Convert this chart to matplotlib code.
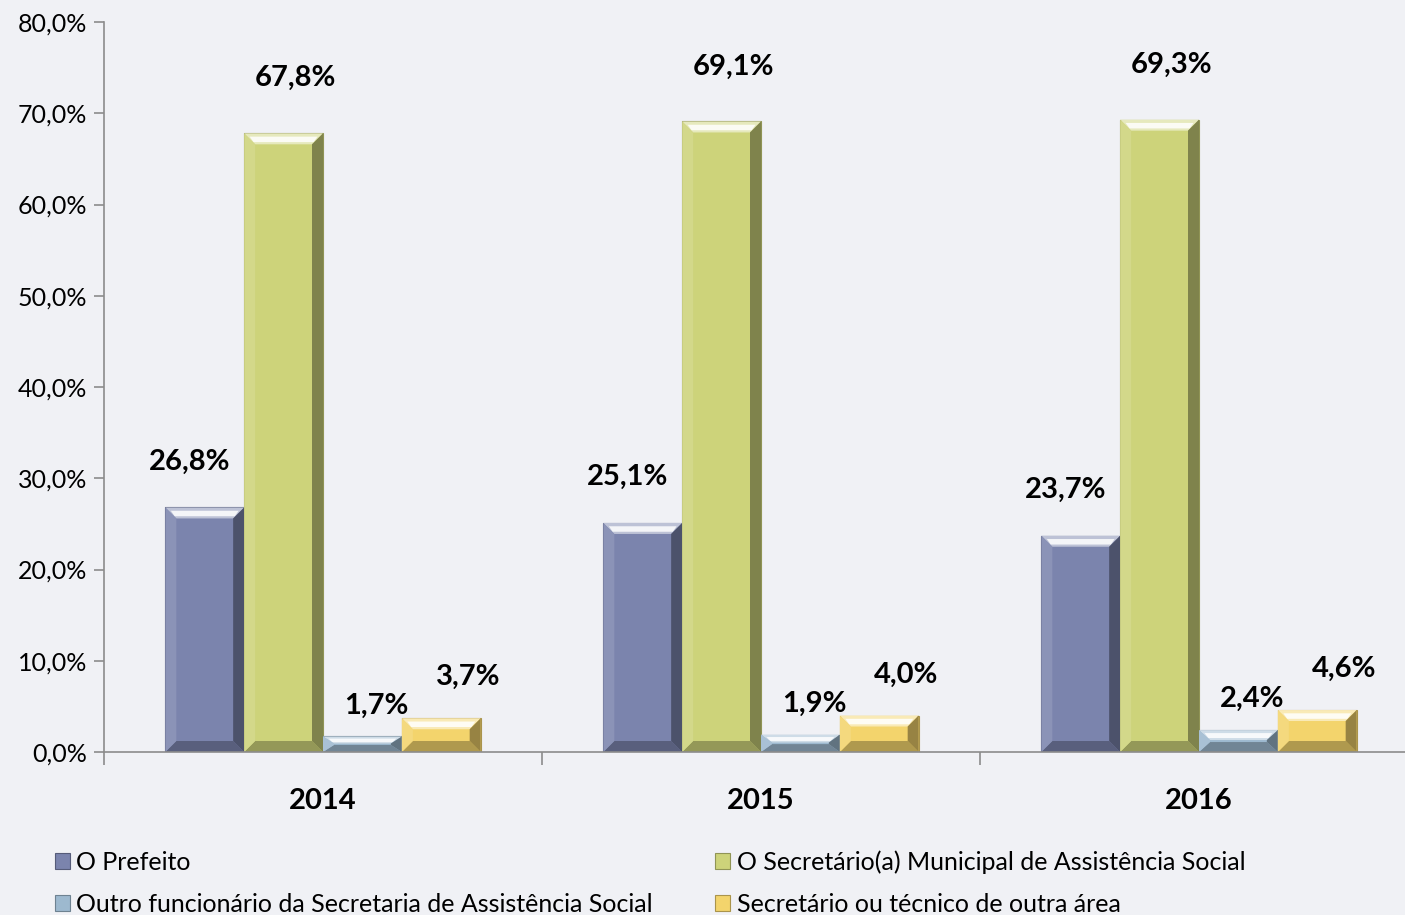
import matplotlib
matplotlib.use("Agg")
import matplotlib.pyplot as plt
from matplotlib.patches import Polygon
from matplotlib.colors import to_rgb
import numpy as np

years = ["2014", "2015", "2016"]
series_names = [
    "O Prefeito",
    "O Secretário(a) Municipal de Assistência Social",
    "Outro funcionário da Secretaria de Assistência Social",
    "Secretário ou técnico de outra área",
]
prefeito = [26.8, 25.1, 23.7]
secretario = [67.8, 69.1, 69.3]
outro_func = [1.7, 1.9, 2.4]
outra_area = [3.7, 4.0, 4.6]
y_ticks = [0, 10, 20, 30, 40, 50, 60, 70, 80]

series_values = [prefeito, secretario, outro_func, outra_area]
colors = ["#7b84ad", "#cdd37a", "#9db9cf", "#f3d46c"]
label_offsets = [(-15, 46), (12, 55), (14, 31), (27, 41)]  # pixels

FONT = "Lato"
plt.rcParams["font.family"] = [FONT, "DejaVu Sans"]

W, H = 1405, 915
fig = plt.figure(figsize=(W / 100, H / 100), dpi=100)
bg = "#f0f1f5"
fig.patch.set_facecolor(bg)

ax_left, ax_right = 104 / W, 1418 / W
ax_bottom, ax_top = (H - 752) / H, (H - 22) / H
ax = fig.add_axes([ax_left, ax_bottom, ax_right - ax_left, ax_top - ax_bottom])
ax.set_facecolor("none")

n_cat = len(years)
n_ser = len(series_values)
bar_w = 0.18
x = np.arange(n_cat)

ax.set_xlim(-0.5, n_cat - 0.5)
ax.set_ylim(0, 80)


def blend(c, other, t):
    c = np.array(to_rgb(c))
    o = np.array(to_rgb(other))
    return tuple(c * (1 - t) + o * t)


px_x = (n_cat) / (1418 - 104)
px_y = 80 / (752 - 22)
bev_px = 11

containers = []
for i, (vals, col) in enumerate(zip(series_values, colors)):
    pos = x + (i - (n_ser - 1) / 2) * bar_w
    bc = ax.bar(pos, vals, width=bar_w, color=col, edgecolor=blend(col, "black", 0.3),
                linewidth=0.8, label=series_names[i], zorder=2)
    containers.append(bc)
    for p in bc.patches:
        x0, w, h = p.get_x(), p.get_width(), p.get_height()
        x1, y0, y1 = x0 + w, 0, h
        bx = bev_px * px_x
        by = min(bev_px * px_y, h / 2.2)
        # top (two-tone highlight)
        ax.add_patch(Polygon([(x0, y1), (x1, y1), (x1 - bx, y1 - by), (x0 + bx, y1 - by)],
                             closed=True, facecolor=blend(col, "white", 0.5), edgecolor="none", zorder=3))
        ax.add_patch(Polygon([(x0 + bx * 0.5, y1 - by * 0.3), (x1 - bx * 0.5, y1 - by * 0.3),
                              (x1 - bx * 0.85, y1 - by * 0.8), (x0 + bx * 0.85, y1 - by * 0.8)],
                             closed=True, facecolor=blend(col, "white", 0.92), edgecolor="none", zorder=3))
        # bottom
        ax.add_patch(Polygon([(x0, y0), (x1, y0), (x1 - bx, y0 + by), (x0 + bx, y0 + by)],
                             closed=True, facecolor=blend(col, "black", 0.28), edgecolor="none", zorder=3))
        # left
        ax.add_patch(Polygon([(x0, y0), (x0, y1), (x0 + bx, y1 - by), (x0 + bx, y0 + by)],
                             closed=True, facecolor=blend(col, "white", 0.12), edgecolor="none", zorder=3))
        # right
        ax.add_patch(Polygon([(x1, y0), (x1, y1), (x1 - bx, y1 - by), (x1 - bx, y0 + by)],
                             closed=True, facecolor=blend(col, "black", 0.38), edgecolor="none", zorder=3))
    dx, dy = label_offsets[i]
    for xp, v in zip(pos, vals):
        ax.annotate(f"{v:.1f}%".replace(".", ","), (xp, v), xytext=(dx, dy),
                    textcoords="offset pixels", ha="center", va="center",
                    fontsize=21, fontweight="bold", color="black", zorder=5)

for s in ["top", "right"]:
    ax.spines[s].set_visible(False)
for s in ["left", "bottom"]:
    ax.spines[s].set_color("#8c8c8c")
    ax.spines[s].set_linewidth(1.2)
ax.spines["bottom"].set_zorder(4)

ax.set_yticks(y_ticks)
ax.set_yticklabels([f"{t:.1f}%".replace(".", ",") for t in y_ticks], fontsize=18)
ax.tick_params(axis="y", length=7, width=1.2, color="#8c8c8c", pad=5)

ax.set_xticks(np.arange(n_cat + 1) - 0.5, minor=False)
ax.set_xticklabels([])
ax.tick_params(axis="x", which="major", length=9, width=1.2, color="#8c8c8c", direction="out")
ax.set_xticks(x, minor=True)
ax.set_xticklabels(years, minor=True, fontsize=21, fontweight="bold")
ax.tick_params(axis="x", which="minor", length=0, pad=26)

order = [0, 2, 1, 3]
leg = fig.legend([containers[k] for k in order], [series_names[k] for k in order],
                 loc="upper left", ncol=2,
                 bbox_to_anchor=(55 / W, (H - 850) / H), frameon=False,
                 fontsize=18, handlelength=0.6, handleheight=0.6, handletextpad=0.25,
                 columnspacing=2.5, labelspacing=0.78, borderaxespad=0, borderpad=0)

fig.savefig("out.png", dpi=100, facecolor=fig.get_facecolor())
